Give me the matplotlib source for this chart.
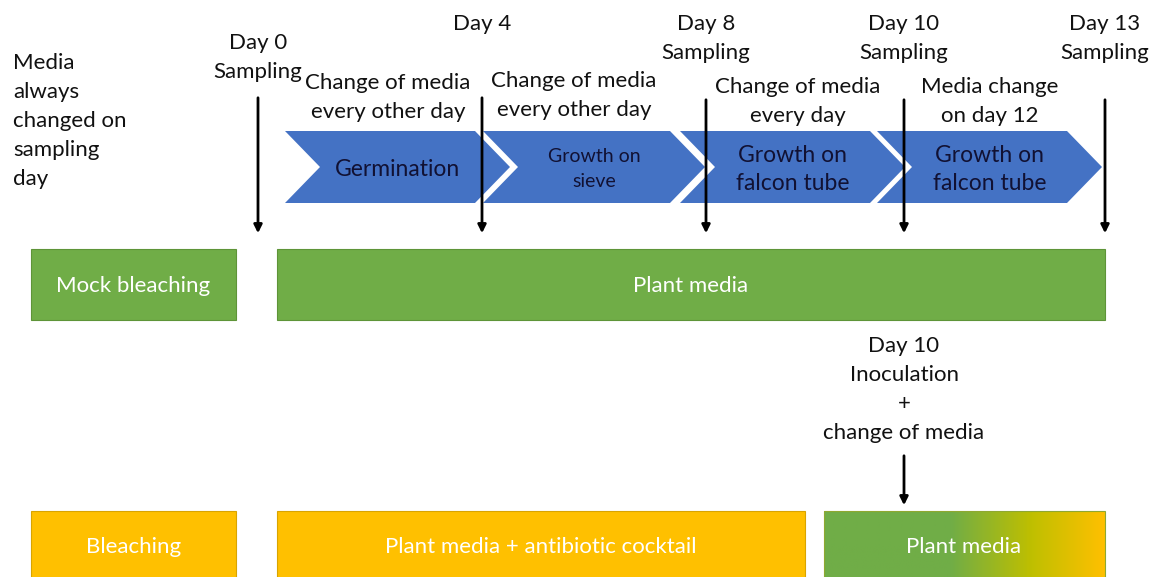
import numpy as np
import matplotlib.pyplot as plt
from matplotlib.patches import Polygon, Rectangle
from matplotlib.colors import LinearSegmentedColormap

plt.rcParams['font.family'] = ['Lato', 'DejaVu Sans']

W, H = 1154, 577
BLUE = '#4472C4'
GREEN = '#70AD47'
GOLD = '#FFC000'

# chevron stages (x of left/right body edges)
stage_labels = ['Germination', 'Growth on\nsieve', 'Growth on\nfalcon tube', 'Growth on\nfalcon tube']
stage_left = [285, 483, 680, 877]
stage_right = [475, 670, 870, 1067]
stage_fs = [16.5, 14, 16.5, 16.5]

# sampling arrows
day_x = [258, 482, 706, 904, 1105]
day_labels = ['Day 0\nSampling', 'Day 4', 'Day 8\nSampling', 'Day 10\nSampling', 'Day 13\nSampling']
day_label_y = [42, 23, 23, 23, 23]
arrow_top = [95, 95, 97, 97, 97]

media_notes = ['Change of media\nevery other day', 'Change of media\nevery other day',
               'Change of media\nevery day', 'Media change\non day 12']
media_note_x = [388, 574, 798, 990]
media_note_y = [82, 80, 86, 86]

# boxes: (label, x0, x1, colour)
mock_row = [('Mock bleaching', 31, 236, GREEN), ('Plant media', 277, 1105, GREEN)]
bleach_row = [('Bleaching', 31, 236, GOLD), ('Plant media + antibiotic cocktail', 277, 805, GOLD)]

FS = 16

fig = plt.figure(figsize=(W / 100, H / 100), dpi=100)
ax = fig.add_axes([0, 0, 1, 1])
ax.set_xlim(0, W)
ax.set_ylim(H, 0)
ax.axis('off')

LS = 29  # line spacing in px


def lines(x, y, text, fs=FS, color='#111111', ha='center'):
    for k, t in enumerate(text.split('\n')):
        ax.text(x, y + 1 + k * LS, t, ha=ha, va='center', fontsize=fs, color=color)


# chevrons
top, bot, mid, tip = 131, 203, 167, 35
for lab, l, r, fs in zip(stage_labels, stage_left, stage_right, stage_fs):
    ax.add_patch(Polygon([(l, top), (r, top), (r + tip, mid), (r, bot), (l, bot), (l + tip, mid)],
                         closed=True, fc=BLUE, ec='none', zorder=1))
    cx = (l + r) / 2 + tip / 2
    n = lab.count('\n')
    gap = 28 if fs > 15 else 25
    for k, t in enumerate(lab.split('\n')):
        ax.text(cx, mid + 2 - n * gap / 2 + k * gap, t, ha='center', va='center',
                fontsize=fs, color='#111133', zorder=2)

# arrows
for x, lab, ly, t0 in zip(day_x, day_labels, day_label_y, arrow_top):
    ax.annotate('', xy=(x, 236), xytext=(x, t0),
                arrowprops=dict(arrowstyle='-|>', color='black', lw=2, mutation_scale=12), zorder=3)
    lines(x, ly, lab)

for t, x, y in zip(media_notes, media_note_x, media_note_y):
    lines(x, y, t)

lines(13, 62, 'Media\nalways\nchanged on\nsampling\nday', ha='left')

# box rows
for lab, x0, x1, c in mock_row:
    ax.add_patch(Rectangle((x0, 249), x1 - x0, 71, fc=c, ec='#5E9438', lw=0.8))
    ax.text((x0 + x1) / 2, 286, lab, ha='center', va='center', fontsize=FS, color='white')

for lab, x0, x1, c in bleach_row:
    ax.add_patch(Rectangle((x0, 511), x1 - x0, 70, fc=c, ec='#D9A400', lw=0.8))
    ax.text((x0 + x1) / 2, 547, lab, ha='center', va='center', fontsize=FS, color='white')

# gradient box green -> gold
cmap = LinearSegmentedColormap.from_list('g2y', [(0, GREEN), (0.45, GREEN), (0.74, '#BFBF00'), (1, GOLD)])
grad = np.linspace(0, 1, 256).reshape(1, -1)
ax.imshow(grad, cmap=cmap, extent=(824, 1105, 581, 511), aspect='auto', zorder=1)
ax.add_patch(Rectangle((824, 511), 281, 70, fc='none', ec='#8FA830', lw=0.8, zorder=2))
ax.text(964, 547, 'Plant media', ha='center', va='center', fontsize=FS, color='white', zorder=3)

lines(904, 345, 'Day 10\nInoculation\n+\nchange of media')
ax.annotate('', xy=(904, 508), xytext=(904, 453),
            arrowprops=dict(arrowstyle='-|>', color='black', lw=2, mutation_scale=12))

ax.set_xlim(0, W)
ax.set_ylim(H, 0)
fig.savefig('out.png', dpi=100)
